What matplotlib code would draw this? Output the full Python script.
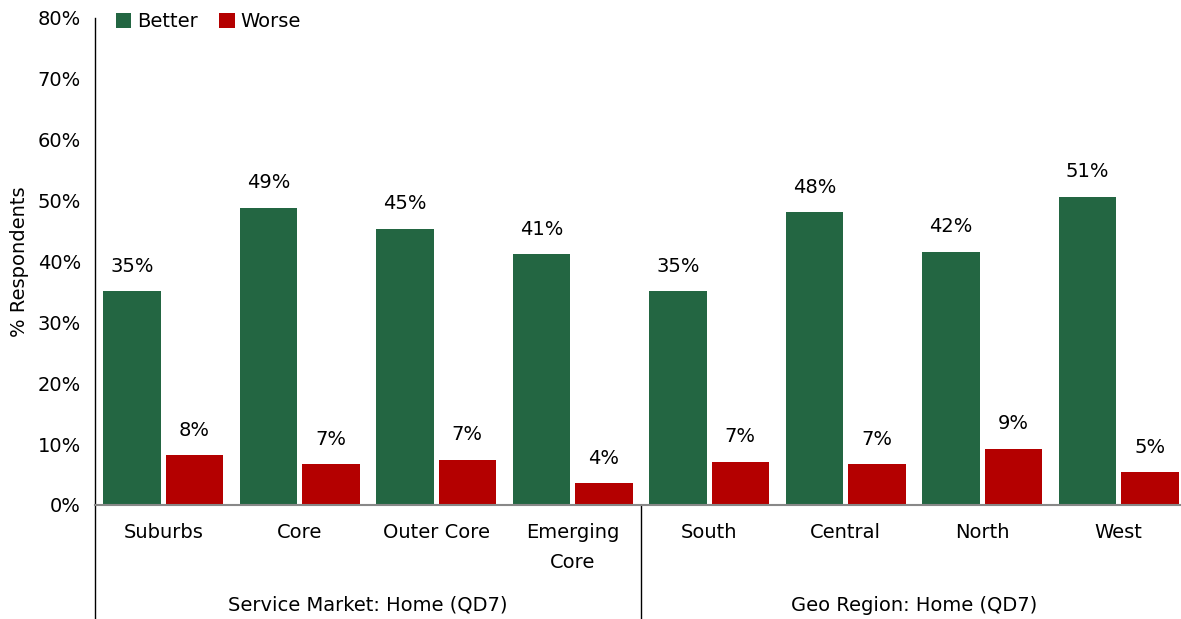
import numpy as np
from matplotlib import pyplot as plt
from matplotlib.ticker import FuncFormatter

categories = ['Suburbs', 'Core', 'Outer Core', 'Emerging\nCore',
              'South', 'Central', 'North', 'West']
groups = ['Service Market: Home (QD7)', 'Geo Region: Home (QD7)']
better = [35.1, 48.8, 45.4, 41.2, 35.1, 48.1, 41.6, 50.6]
worse = [8.2, 6.7, 7.4, 3.6, 7.1, 6.7, 9.2, 5.4]

green = '#236642'
red = '#b40000'

plt.rcParams['font.family'] = 'DejaVu Sans'
fig = plt.figure(figsize=(11.81, 6.19), dpi=100)
ax = fig.add_axes([0.0804, 0.1842, 0.9247, 0.7868])

x = np.arange(len(categories))
w = 0.42
off = 0.228
b1 = ax.bar(x - off, better, w, color=green, label='Better')
b2 = ax.bar(x + off, worse, w, color=red, label='Worse')

for bars in (b1, b2):
    for r in bars:
        h = r.get_height()
        ax.annotate(f'{h:.0f}%', (r.get_x() + r.get_width() / 2, h),
                    xytext=(0, 18), textcoords='offset points',
                    ha='center', va='center', fontsize=14)

ax.set_xlim(-0.5, 7.5)
ax.set_ylim(0, 80)
ax.set_yticks(range(0, 81, 10))
ax.yaxis.set_major_formatter(FuncFormatter(lambda v, p: f'{v:.0f}%'))
ax.set_xticks(x)
ax.set_xticklabels(categories, fontsize=14, linespacing=1.7)
ax.tick_params(axis='x', length=0, pad=13)
ax.tick_params(axis='y', length=0, pad=10, labelsize=14)
ax.set_ylabel('% Respondents', fontsize=14, labelpad=6)

for s in ('top', 'right', 'left'):
    ax.spines[s].set_visible(False)
ax.spines['bottom'].set_color('#888888')
ax.spines['bottom'].set_linewidth(1.5)

low = -0.236
ax.plot([0, 0], [1, low], transform=ax.transAxes, color='black', lw=1, clip_on=False)
ax.plot([0.5, 0.5], [0, low], transform=ax.transAxes, color='black', lw=1, clip_on=False)

trans = ax.get_xaxis_transform()
ax.text(1.5, -0.206, groups[0], transform=trans, ha='center', va='center', fontsize=14)
ax.text(5.5, -0.206, groups[1], transform=trans, ha='center', va='center', fontsize=14)

ax.legend(loc='upper left', bbox_to_anchor=(0.012, 1.028), ncol=2, frameon=False,
          fontsize=14, handlelength=0.8, handleheight=0.8, handletextpad=0.3,
          columnspacing=1.1, borderaxespad=0)

plt.savefig('out.png', dpi=100)
